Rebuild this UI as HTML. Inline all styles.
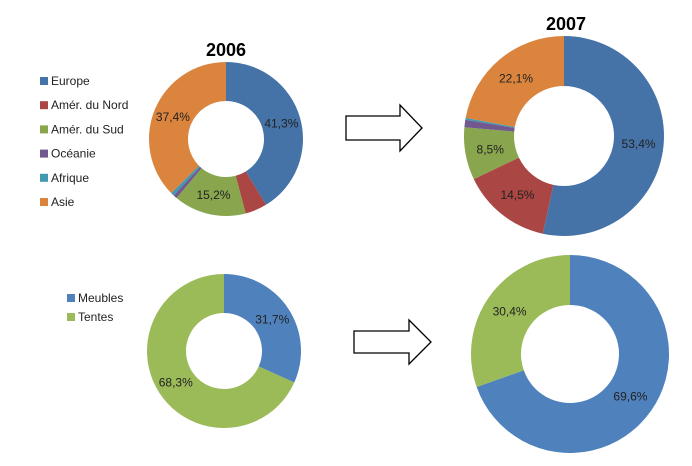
<!DOCTYPE html>
<html><head><meta charset="utf-8"><style>
body{margin:0;background:#fff;width:692px;height:466px;overflow:hidden}
svg{display:block;font-family:"Liberation Sans",sans-serif}
</style></head><body>
<svg id="c" width="692" height="466" viewBox="0 0 692 466">
<text x="226" y="56" text-anchor="middle" font-size="18" font-weight="bold">2006</text>
<text x="566" y="30" text-anchor="middle" font-size="18" font-weight="bold">2007</text>
<path d="M346,116 H400 V105 L422,128 L400,151 V140 H346 Z" fill="#fff" stroke="#000" stroke-width="1.3"/>
<path d="M354,331 H409 V320 L431,342 L409,364 V353 H354 Z" fill="#fff" stroke="#000" stroke-width="1.3"/>
</svg>
<script>
const regions = ["Europe","Amér. du Nord","Amér. du Sud","Océanie","Afrique","Asie"];
const regionColors = ["#4572a7","#aa4643","#89a54e","#71588f","#4198af","#db843d"];
const regions2006 = [41.3,4.6,15.2,0.8,0.7,37.4];
const regions2007 = [53.4,14.5,8.5,1.2,0.3,22.1];
const products = ["Meubles","Tentes"];
const productColors = ["#4f81bd","#9bbb59"];
const products2006 = [31.7,68.3];
const products2007 = [69.6,30.4];
const labels2006 = ["41,3%","","15,2%","","","37,4%"];
const labels2007 = ["53,4%","14,5%","8,5%","","","22,1%"];
const plabels2006 = ["31,7%","68,3%"];
const plabels2007 = ["69,6%","30,4%"];

const NS="http://www.w3.org/2000/svg";
const svg=document.getElementById('c');
function mk(t,a){const e=document.createElementNS(NS,t);for(const k in a)e.setAttribute(k,a[k]);svg.appendChild(e);return e;}
function pt(cx,cy,r,f){const a=f*2*Math.PI;return [cx+r*Math.sin(a),cy-r*Math.cos(a)];}
function donut(name,cx,cy,R,r,vals,cols,labels,cats){
  const tot=vals.reduce((a,b)=>a+b,0);let acc=0;
  vals.forEach((v,i)=>{
    const f0=acc/tot,f1=(acc+v)/tot;acc+=v;
    const large=(f1-f0)>0.5?1:0;
    const [x0,y0]=pt(cx,cy,R,f0),[x1,y1]=pt(cx,cy,R,f1),[x2,y2]=pt(cx,cy,r,f1),[x3,y3]=pt(cx,cy,r,f0);
    const p=mk('path',{d:`M${x0},${y0} A${R},${R} 0 ${large} 1 ${x1},${y1} L${x2},${y2} A${r},${r} 0 ${large} 0 ${x3},${y3} Z`,fill:cols[i]});
    
    
    if(labels[i]){
      const [lx,ly]=pt(cx,cy,(R+r)/2,(f0+f1)/2);
      const t=mk('text',{x:lx,y:ly+4,'text-anchor':'middle','font-size':'12',fill:'#222'});
      t.textContent=labels[i];
      
      
    }
  });
}
donut('regions-2006',226,139,77,38,regions2006,regionColors,labels2006,regions);
donut('regions-2007',564,136,100,50,regions2007,regionColors,labels2007,regions);
donut('products-2006',224,351,77,38,products2006,productColors,plabels2006,products);
donut('products-2007',570,354,99,49,products2007,productColors,plabels2007,products);
function legend(name,x,y0,dy,cats,cols){
  cats.forEach((c,i)=>{
    const y=y0+i*dy;
    const s=mk('rect',{x:x,y:y-4,width:8,height:8,fill:cols[i]});
    
    
    const t=mk('text',{x:x+11,y:y+4,'font-size':'12',fill:'#222'});
    t.textContent=c;
    
    
  });
}
legend('region-legend',40,81,24.2,regions,regionColors);
legend('product-legend',67,298,19,products,productColors);
</script>
</body></html>
